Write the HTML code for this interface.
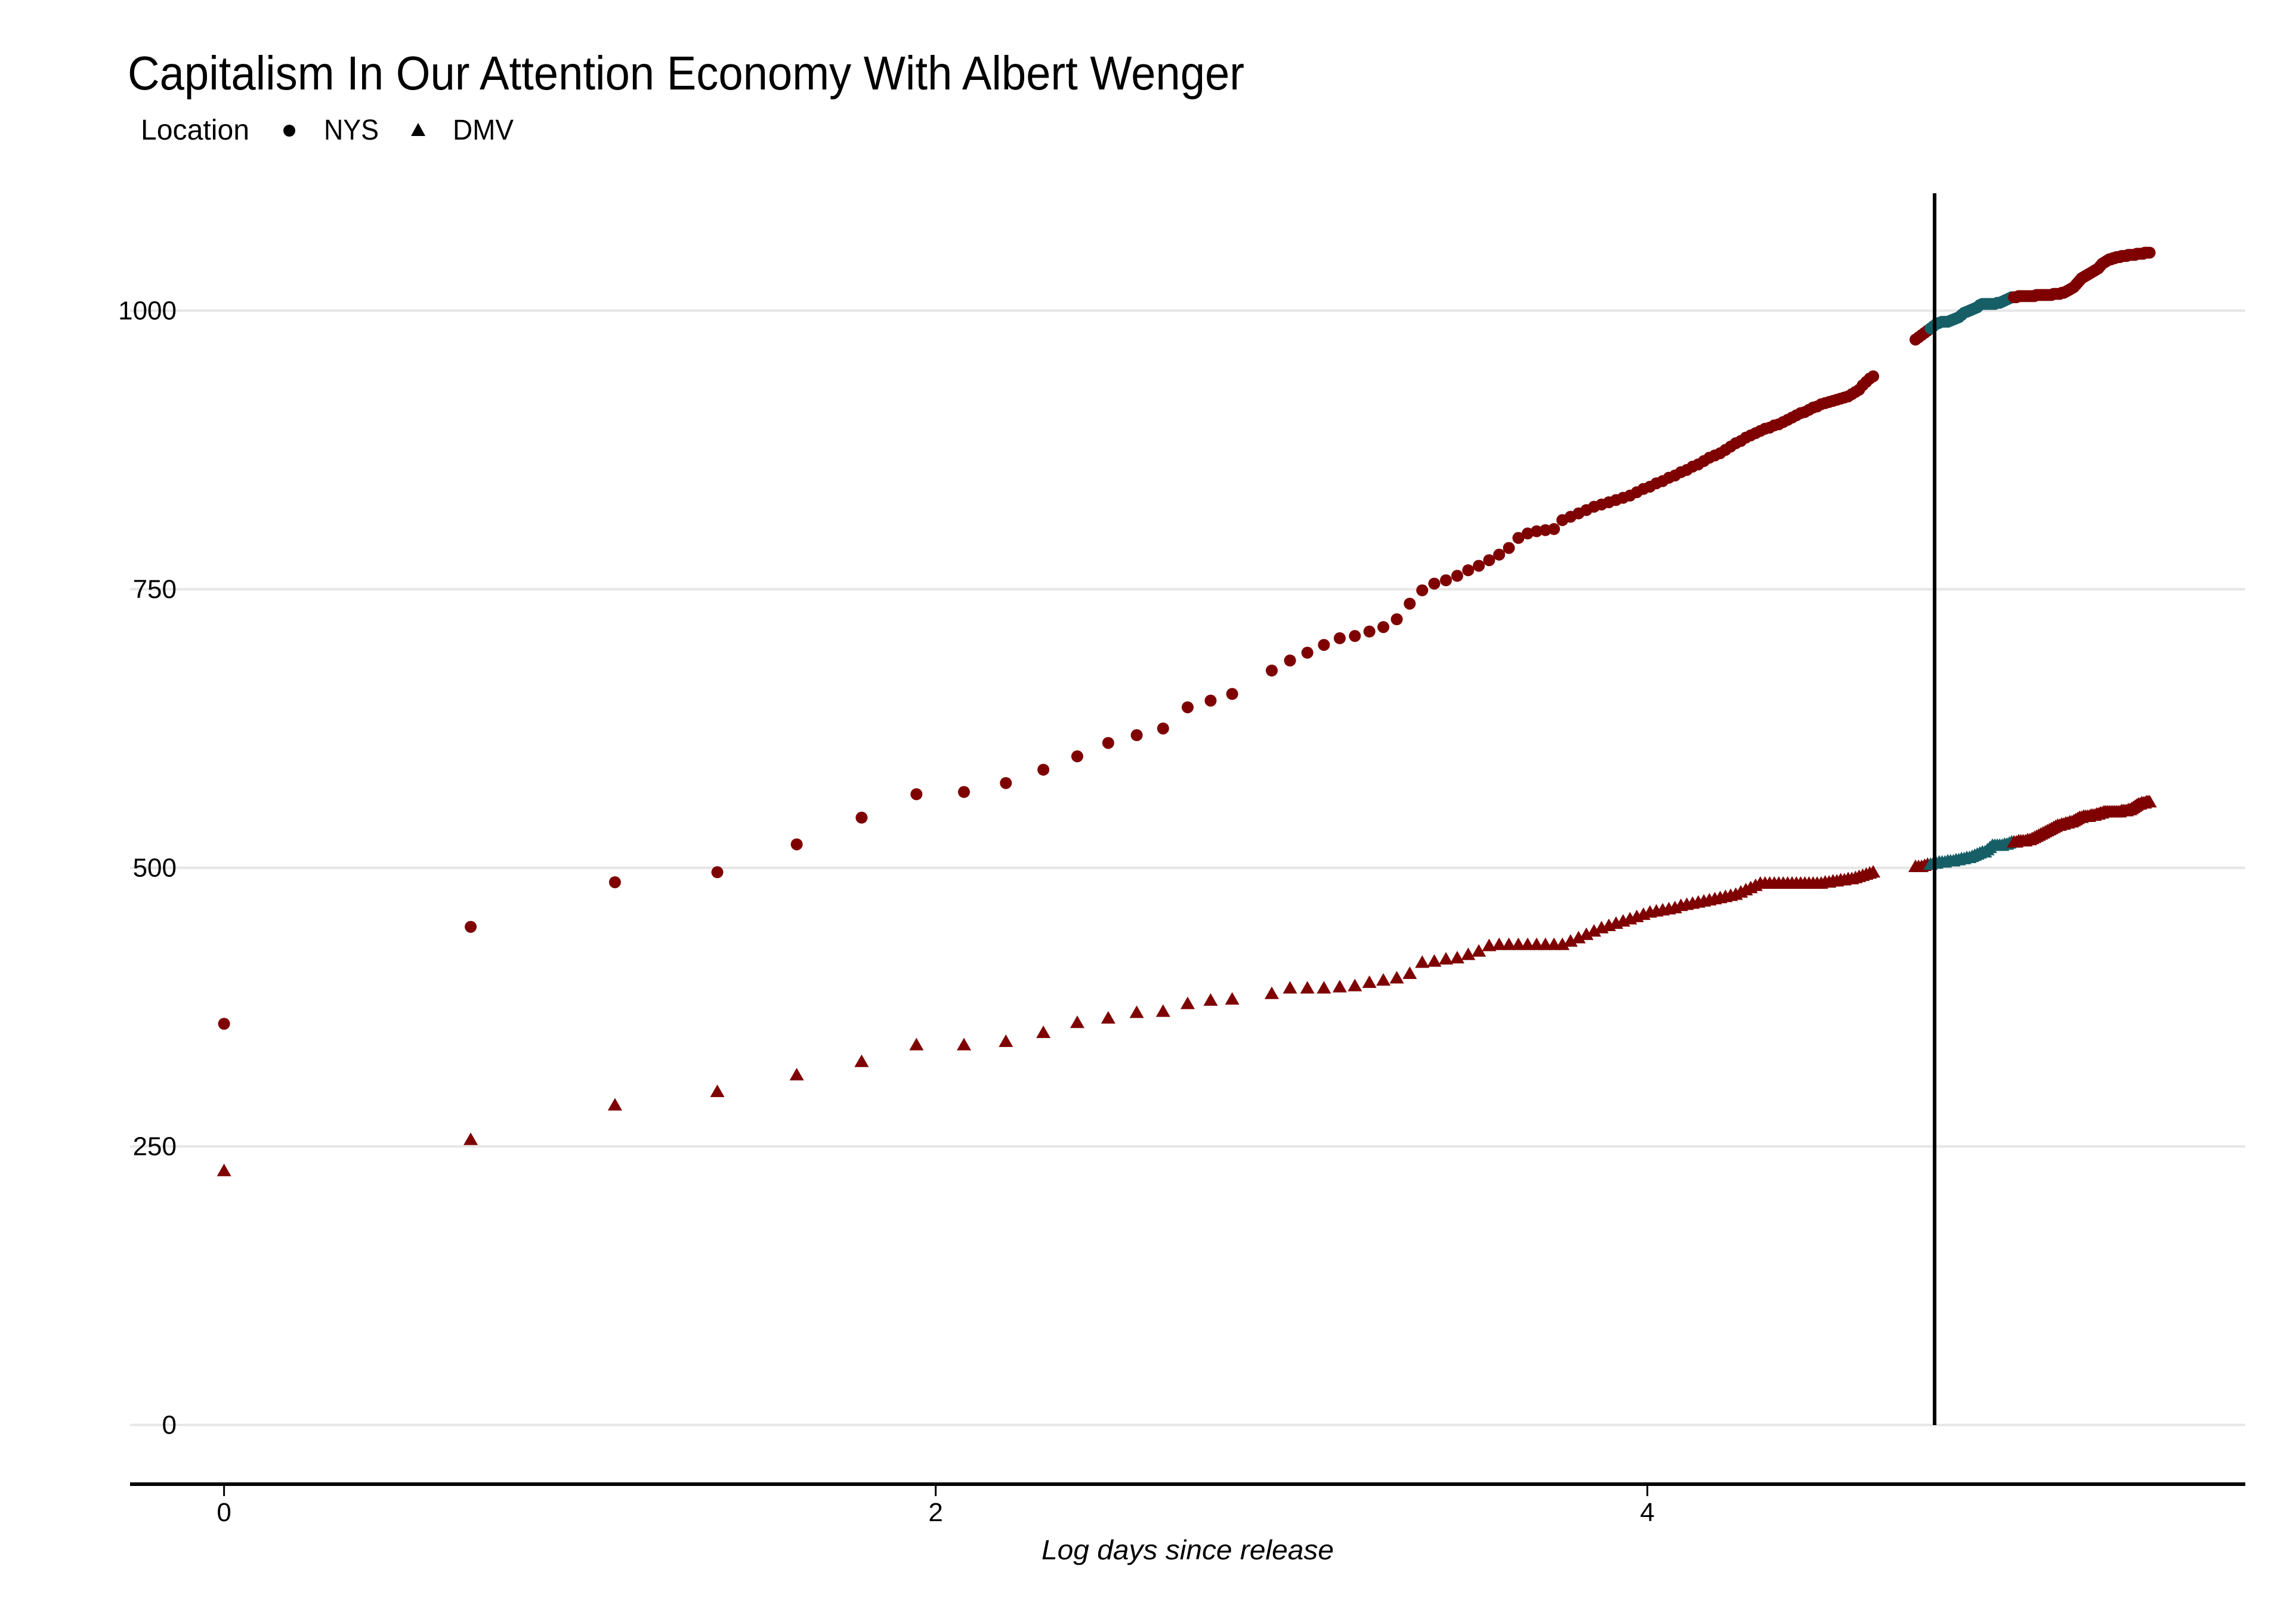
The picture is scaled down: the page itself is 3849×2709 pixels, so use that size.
<!DOCTYPE html>
<html><head><meta charset="utf-8"><style>
html,body{margin:0;padding:0;background:#fff;}
svg{display:block;}
text{font-family:"Liberation Sans Narrow","Liberation Sans",sans-serif;fill:#000;}
</style></head><body>
<svg id="chart" width="3849" height="2709" viewBox="0 0 3849 2709" xmlns="http://www.w3.org/2000/svg">
<text x="214" y="150" font-size="80" textLength="1872" lengthAdjust="spacingAndGlyphs">Capitalism In Our Attention Economy With Albert Wenger</text>
<g>
<text x="236" y="234" font-size="48" textLength="182" lengthAdjust="spacingAndGlyphs">Location</text>
<circle cx="485" cy="219" r="10" fill="#000"/>
<text x="543" y="234" font-size="48" textLength="92" lengthAdjust="spacingAndGlyphs">NYS</text>
<polygon points="701,206 713,228 689,228" fill="#000"/>
<text x="759" y="234" font-size="48" textLength="102" lengthAdjust="spacingAndGlyphs">DMV</text>
</g>
<g id="grid"></g>
<g id="yticks"></g>
<g id="xaxis"></g>
<text x="1991" y="2614" font-size="46" font-style="italic" text-anchor="middle" textLength="490" lengthAdjust="spacingAndGlyphs">Log days since release</text>
<g id="points"></g>
<line id="vline" y1="324" y2="2389" stroke="#000" stroke-width="6"/>
</svg>
<script>
const dayRanges = [[1,17],[19,103],[116,224]];
const nysValues = [360,447,487,496,521,545,566,568,576,588,600,612,619,625,644,650,656,
677,686,693,700,706,708,712,716,723,737,749,755,758,762,767,771,776,781,787,796,800,802,803,804,812,
815,818,821,824,826,828,830,832,834,837,840,
842,845,847,850,852,855,857,860,862,865,868,870,872,875,878,881,883,886,888,890,892,894,895,897,898,900,
902,904,906,908,909,911,913,914,916,917,918,919,920,921,922,923,925,927,929,933,936,939,941,
974,976,978,980,982,984,986,988,989,990,990,990,991,992,993,994,996,998,999,1000,1001,1002,1003,1005,1006,1006,1006,1006,1006,1006,1007,1007,1008,1009,1010,1011,1012,1012,
1012,1013,1013,1013,1013,1013,1013,1013,1013,1014,1014,1014,1014,1014,1014,1014,1014,1015,1015,1015,1015,1016,1016,1017,1018,1019,1020,
1021,1023,1025,1027,1029,1030,1031,1032,1033,1034,1035,1036,1037,1038,1040,1042,1043,1044,1045,1046,1046,1047,1047,1048,1048,1048,1049,1049,1049,1049,1050,1050,1050,1050,1050,1051,1051,1051,1051,1051,1052,1052,1052,1052];
const dmvValues = [228,256,287,299,314,326,341,341,344,352,361,365,370,371,378,381,382,
387,392,392,392,393,394,397,399,401,405,415,416,418,419,422,425,430,431,431,431,431,431,431,431,431,
434,437,440,443,446,448,450,452,454,456,458,
460,461,462,463,464,466,467,468,469,470,471,472,473,474,475,476,478,480,482,484,486,486,486,486,486,486,
486,486,486,486,486,486,486,486,486,487,487,488,488,489,489,490,490,491,492,493,494,495,496,
501,501,501,502,503,503,504,504,505,505,505,506,506,506,507,507,508,508,509,509,510,511,512,513,514,514,516,518,520,520,520,520,520,521,521,522,523,523,
523,524,524,524,524,525,525,526,527,528,529,530,531,532,533,534,535,536,537,538,538,539,539,540,540,541,541,
542,543,544,545,545,546,546,546,546,547,547,547,548,548,549,549,550,550,550,550,550,550,550,550,550,550,551,551,551,551,552,552,553,554,555,556,557,557,558,558,558,559,559,559];
const highlightDays = [121,152];
const vlineDay = 122.4;
const yTicks = [0,250,500,750,1000];
const xTicks = [0,2,4];

const NS='http://www.w3.org/2000/svg';
const X0=375.6, XU=596.5, Y0=2388.7, YU=1.868;
function sx(v){return X0+v*XU;}
function sy(v){return Y0-v*YU;}
function mk(tag,attrs,parent){const e=document.createElementNS(NS,tag);for(const k in attrs)e.setAttribute(k,attrs[k]);parent.appendChild(e);return e;}

const grid=document.getElementById('grid'), yt=document.getElementById('yticks'), xa=document.getElementById('xaxis'), pts=document.getElementById('points');
yTicks.forEach(t=>{
  const l=mk('line',{x1:218,x2:3764,y1:sy(t),y2:sy(t),stroke:'#e6e6e6','stroke-width':4},grid);
  
  
  const tx=mk('text',{x:296,y:sy(t)+15,'font-size':44,'text-anchor':'end'},yt);
  tx.textContent=t;
  
  
});
const ax=mk('line',{x1:218,x2:3764,y1:2488,y2:2488,stroke:'#000','stroke-width':6},xa);


xTicks.forEach(t=>{
  const tk=mk('line',{x1:sx(t),x2:sx(t),y1:2488,y2:2508,stroke:'#000','stroke-width':3},xa);
  
  
  const tx=mk('text',{x:sx(t),y:2550,'font-size':44,'text-anchor':'middle'},xa);
  tx.textContent=t;
  
  
});
const days=[];
dayRanges.forEach(r=>{for(let d=r[0];d<=r[1];d++)days.push(d);});
const RED='#7f0000', TEAL='#175f66';
days.forEach((d,i)=>{
  const col=(d>=highlightDays[0]&&d<=highlightDays[1])?TEAL:RED;
  const x=sx(Math.log(d));
  if(dmvValues[i]!==undefined){
    const y=sy(dmvValues[i]);
    const p=mk('polygon',{points:`${x},${y-12} ${x+12},${y+9} ${x-12},${y+9}`,fill:col},pts);
    
    
  }
  if(nysValues[i]!==undefined){
    const c=mk('circle',{cx:x,cy:sy(nysValues[i]),r:10,fill:col},pts);
    
    
  }
});
const vl=document.getElementById('vline');
vl.setAttribute('x1',sx(Math.log(vlineDay)));
vl.setAttribute('x2',sx(Math.log(vlineDay)));
</script>
</body></html>
